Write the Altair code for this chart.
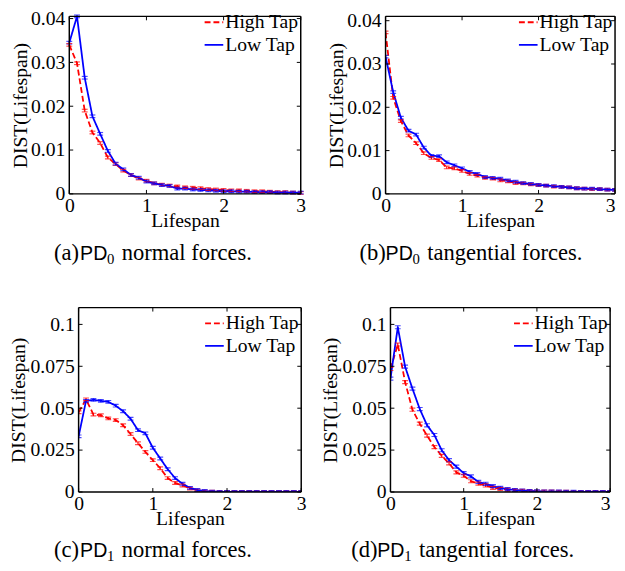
import altair as alt
import pandas as pd

# ---------------- data ----------------
lifespan = [0.0, 0.1, 0.2, 0.3, 0.4, 0.5, 0.6, 0.7, 0.8, 0.9, 1.0,
            1.1, 1.2, 1.3, 1.4, 1.5, 1.6, 1.7, 1.8, 1.9, 2.0,
            2.1, 2.2, 2.3, 2.4, 2.5, 2.6, 2.7, 2.8, 2.9, 3.0]

a_high = [0.0340, 0.0298, 0.0190, 0.0140, 0.0116, 0.0083, 0.0068, 0.0053, 0.0043, 0.0035, 0.0030,
          0.0024, 0.0021, 0.0019, 0.0017, 0.0015, 0.0014, 0.0013, 0.0011, 0.0010, 0.0009,
          0.0008, 0.0008, 0.0007, 0.0006, 0.0006, 0.0005, 0.0004, 0.0004, 0.0003, 0.0002]
a_low = [0.0345, 0.0405, 0.0265, 0.0177, 0.0137, 0.0098, 0.0069, 0.0056, 0.0043, 0.0037, 0.0028,
         0.0024, 0.0020, 0.0018, 0.0012, 0.0012, 0.0010, 0.0009, 0.0008, 0.0007, 0.0006,
         0.0006, 0.0005, 0.0005, 0.0004, 0.0004, 0.0004, 0.0003, 0.0003, 0.0003, 0.0003]

b_high = [0.0373, 0.0222, 0.0168, 0.0135, 0.0117, 0.0094, 0.0083, 0.0078, 0.0061, 0.0059, 0.0053,
          0.0046, 0.0042, 0.0037, 0.0035, 0.0031, 0.0029, 0.0025, 0.0024, 0.0022, 0.0020,
          0.0019, 0.0017, 0.0016, 0.0015, 0.0013, 0.0012, 0.0011, 0.0011, 0.0010, 0.0009]
b_low = [0.0317, 0.0235, 0.0176, 0.0146, 0.0137, 0.0107, 0.0088, 0.0087, 0.0073, 0.0066, 0.0059,
         0.0051, 0.0046, 0.0039, 0.0037, 0.0035, 0.0031, 0.0028, 0.0025, 0.0023, 0.0021,
         0.0019, 0.0018, 0.0016, 0.0015, 0.0013, 0.0012, 0.0012, 0.0011, 0.0010, 0.0009]

c_high = [0.0476, 0.0553, 0.0462, 0.0458, 0.0439, 0.0429, 0.0398, 0.0346, 0.0291, 0.0239, 0.0190,
          0.0142, 0.0083, 0.0054, 0.0039, 0.0021, 0.0010, 0.0004, 0.0002, 0.0001, 0.0000,
          0.0000, 0.0000, 0.0000, 0.0000, 0.0000, 0.0000, 0.0000, 0.0000, 0.0000, 0.0000]
c_low = [0.0332, 0.0544, 0.0550, 0.0544, 0.0538, 0.0515, 0.0482, 0.0437, 0.0369, 0.0350, 0.0264,
         0.0200, 0.0136, 0.0083, 0.0049, 0.0025, 0.0012, 0.0006, 0.0002, 0.0001, 0.0000,
         0.0000, 0.0000, 0.0000, 0.0000, 0.0000, 0.0000, 0.0000, 0.0000, 0.0000, 0.0000]

d_high = [0.0734, 0.0880, 0.0656, 0.0491, 0.0408, 0.0336, 0.0268, 0.0216, 0.0171, 0.0117, 0.0097,
          0.0064, 0.0050, 0.0039, 0.0025, 0.0019, 0.0014, 0.0010, 0.0007, 0.0005, 0.0003,
          0.0002, 0.0002, 0.0001, 0.0001, 0.0000, 0.0000, 0.0000, 0.0000, 0.0000, 0.0000]
d_low = [0.0676, 0.0983, 0.0748, 0.0617, 0.0495, 0.0398, 0.0340, 0.0249, 0.0190, 0.0151, 0.0113,
         0.0093, 0.0060, 0.0049, 0.0035, 0.0025, 0.0017, 0.0012, 0.0009, 0.0006, 0.0004,
         0.0003, 0.0002, 0.0002, 0.0001, 0.0001, 0.0000, 0.0000, 0.0000, 0.0000, 0.0000]

# half-widths of the error bars (estimated)
err_a = [0.0003, 0.0003]
err_b = [0.0003, 0.0003]
err_c = [0.0008, 0.0008]
err_d = [0.0009, 0.0009]

series = ["High Tap", "Low Tap"]
colors = ["#ff0000", "#0000ff"]
dashes = [[6, 3], [1, 0]]

x_ticks = [0, 1, 2, 3]
y_ticks_top = [0, 0.01, 0.02, 0.03, 0.04]
y_ticks_bottom = [0, 0.025, 0.05, 0.075, 0.1]

captions = [("(a)", "0", " normal forces."),
            ("(b)", "0", " tangential forces."),
            ("(c)", "1", " normal forces."),
            ("(d)", "1", " tangential forces.")]

SERIF = "Liberation Serif"
SANS = "Liberation Sans"


def panel(high, low, err, ydom, yticks, yfmt, W, h, cap, cap_dx, cap_dy,
          title_x, title_y, flush_last, xoff=0.0, leg_top=172):
    # the plot box spans [-xoff, W - xoff] horizontally, [0, h] vertically
    L, R = -xoff, W - xoff
    df = pd.DataFrame({
        "x": lifespan + lifespan,
        "v": high + low,
        "s": [series[0]] * len(lifespan) + [series[1]] * len(lifespan),
        "e": [err[0]] * len(lifespan) + [err[1]] * len(lifespan),
    })
    base = alt.Chart(df).transform_calculate(
        lo="datum.v - datum.e", hi="datum.v + datum.e")

    xscale = alt.Scale(domain=[0, 3], nice=False, zero=False, range=[L, R])
    yscale = alt.Scale(domain=ydom, nice=False, zero=True)
    color = alt.Color("s:N", scale=alt.Scale(domain=series, range=colors), legend=None)
    dash = alt.StrokeDash("s:N", scale=alt.Scale(domain=series, range=dashes), legend=None)

    label_align = "center"
    if flush_last:
        label_align = {"condition": {"test": "datum.value == 3", "value": "right"},
                       "value": "center"}

    xaxis = alt.Axis(values=x_ticks, format="d", title="Lifespan", labelBaseline="alphabetic",
                     labelPadding=18, labelAlign=label_align,
                     titleBaseline="alphabetic", titleX=(L + R) / 2, titleY=title_y,
                     titleAlign="center")
    yaxis = alt.Axis(values=yticks, format=yfmt, title="DIST(Lifespan)", offset=xoff,
                     labelPadding=4.5, titleX=title_x, titleY=h / 2,
                     titleBaseline="alphabetic", titleAngle=270, titleAlign="center")

    clip = xoff == 0
    lines = base.mark_line(clip=clip, strokeWidth=1.8).encode(
        x=alt.X("x:Q", scale=xscale, axis=xaxis),
        y=alt.Y("v:Q", scale=yscale, axis=yaxis),
        color=color, strokeDash=dash, detail="s:N")
    bars = base.mark_rule(clip=clip, strokeWidth=1.2).encode(
        x="x:Q", y="lo:Q", y2="hi:Q", color=color)
    cap_lo = base.mark_tick(clip=clip, orient="horizontal", size=6, thickness=1.2).encode(
        x="x:Q", y="lo:Q", color=color)
    cap_hi = base.mark_tick(clip=clip, orient="horizontal", size=6, thickness=1.2).encode(
        x="x:Q", y="hi:Q", color=color)

    # box frame
    one = pd.DataFrame({"t": [0]})
    fr = alt.Chart(one)
    frame = [
        fr.mark_rule(color="black", strokeWidth=1.5).encode(
            x=alt.value(L), x2=alt.value(R), y=alt.value(0)),
        fr.mark_rule(color="black", strokeWidth=1.5).encode(
            x=alt.value(L), x2=alt.value(R), y=alt.value(h)),
        fr.mark_rule(color="black", strokeWidth=1.5).encode(
            x=alt.value(L), y=alt.value(0), y2=alt.value(h)),
        fr.mark_rule(color="black", strokeWidth=1.5).encode(
            x=alt.value(R), y=alt.value(0), y2=alt.value(h)),
    ]

    # inward box ticks
    xt = alt.Chart(pd.DataFrame({"x": x_ticks}))
    yt = alt.Chart(pd.DataFrame({"v": yticks}))
    tl = 4
    ticks = [
        xt.mark_rule(color="black", strokeWidth=1).encode(
            x="x:Q", y=alt.value(h), y2=alt.value(h - tl)),
        xt.mark_rule(color="black", strokeWidth=1).encode(
            x="x:Q", y=alt.value(0), y2=alt.value(tl)),
        yt.mark_rule(color="black", strokeWidth=1).encode(
            y="v:Q", x=alt.value(L), x2=alt.value(L + tl)),
        yt.mark_rule(color="black", strokeWidth=1).encode(
            y="v:Q", x=alt.value(R), x2=alt.value(R - tl)),
    ]

    # legend (drawn inside the plot, top right)
    leg = []
    for i, (s, c) in enumerate(zip(series, colors)):
        yy = h - leg_top + 23 * i
        leg.append(alt.Chart(pd.DataFrame({"s": [s]})).mark_rule(
            color=c, strokeWidth=1.8, strokeDash=dashes[i]).encode(
            x=alt.value(R - 98), x2=alt.value(R - 79), y=alt.value(yy)))
        leg.append(alt.Chart(pd.DataFrame({"s": [s]})).mark_text(
            font=SERIF, fontSize=20, align="left", baseline="middle", color="black").encode(
            x=alt.value(R - 77), y=alt.value(yy), text="s:N"))

    # caption below the panel
    letter, sub, rest = cap
    cy = h + cap_dy
    cx = L + cap_dx
    caption = [
        alt.Chart(one).mark_text(font=SERIF, fontSize=23, align="left",
                                 baseline="alphabetic", color="black").encode(
            x=alt.value(cx), y=alt.value(cy), text=alt.value(letter)),
        alt.Chart(one).mark_text(font=SANS, fontSize=20, align="left",
                                 baseline="alphabetic", color="black").encode(
            x=alt.value(cx + 26.5), y=alt.value(cy), text=alt.value("PD")),
        alt.Chart(one).mark_text(font=SERIF, fontSize=15, align="left",
                                 baseline="alphabetic", color="black").encode(
            x=alt.value(cx + 54), y=alt.value(cy + 4), text=alt.value(sub)),
        alt.Chart(one).mark_text(font=SERIF, fontSize=23, align="left",
                                 baseline="alphabetic", color="black").encode(
            x=alt.value(cx + 69), y=alt.value(cy), text=alt.value(rest)),
    ]

    return alt.layer(lines, bars, cap_lo, cap_hi, *frame, *ticks,
                     *leg, *caption).properties(width=W - xoff, height=h)


pa = panel(a_high, a_low, err_a, [0, 0.0405], y_ticks_top, ".2~f", 236, 181,
           captions[0], -15.5, 67, -43.5, 33, False, xoff=9.5, leg_top=175)
pb = panel(b_high, b_low, err_b, [0, 0.041], y_ticks_top, ".2~f", 234, 181,
           captions[1], -26.5, 67, -43.5, 33, True, leg_top=175)
pc = panel(c_high, c_low, err_c, [0, 0.11], y_ticks_bottom, ".3~f", 227, 188,
           captions[2], -25, 66.5, -55, 33.5, False)
pd_ = panel(d_high, d_low, err_d, [0, 0.11], y_ticks_bottom, ".3~f", 224, 188,
            captions[3], -40, 66.5, -55, 33.5, True)

row1 = alt.hconcat(pa, pb, spacing=16)
row2 = alt.hconcat(pc, pd_, spacing=13)

chart = alt.concat(row1, row2, columns=1, spacing=39).properties(
    align="none",
    padding={"top": -6, "left": 0, "right": 0, "bottom": 0},
    background="white",
).configure_view(
    stroke="transparent"
).configure_axis(
    grid=False, domain=False, ticks=False, tickSize=0,
    labelFont=SERIF, labelFontSize=20, labelColor="black",
    titleFont=SERIF, titleFontSize=20, titleFontWeight="normal", titleColor="black",
)

chart.save("out.html", embed_options={"renderer": "svg", "actions": False})
